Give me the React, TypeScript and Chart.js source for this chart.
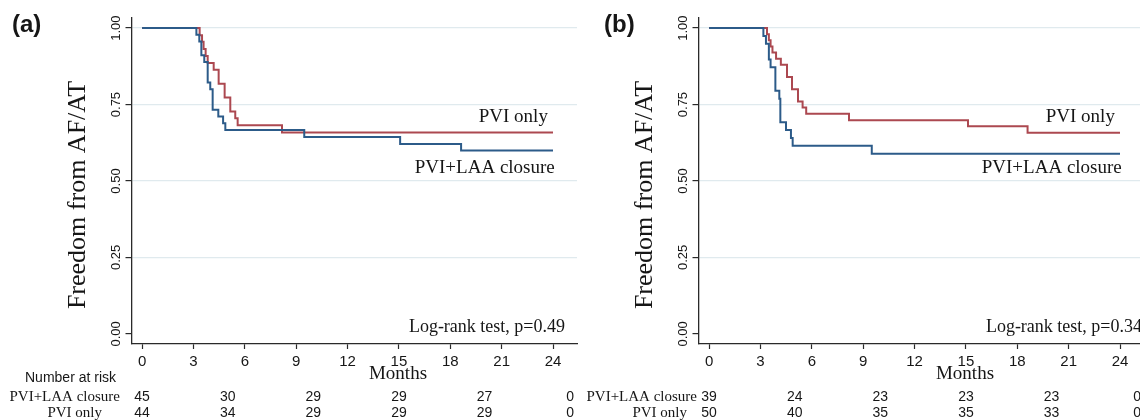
import React, { useEffect, useRef } from "react";
import { Chart, registerables } from "chart.js";

Chart.register(...registerables);

// ---------- data ----------
const xTickValues = [0, 3, 6, 9, 12, 15, 18, 21, 24];
const yTickValues = [0, 0.25, 0.5, 0.75, 1];
const yTickLabels = ["0.00", "0.25", "0.50", "0.75", "1.00"];
const riskMonths = [0, 5, 10, 15, 20, 25];

const seriesNames = ["PVI+LAA closure", "PVI only"];
const panelLetters = ["(a)", "(b)"];
const logRankTexts = ["Log-rank test, p=0.49", "Log-rank test, p=0.34"];
const yTitle = "Freedom from AF/AT";
const xTitle = "Months";
const riskTitle = "Number at risk";

// Panel (a)
const aLaaMonths = [0, 3.17, 3.34, 3.46, 3.63, 3.83, 3.98, 4.12, 4.45, 4.73, 4.86, 9.47, 15.07, 18.63, 24];
const aLaaSurv = [1, 0.978, 0.956, 0.911, 0.889, 0.822, 0.8, 0.733, 0.711, 0.689, 0.667, 0.644, 0.621, 0.6, 0.6];
const aPviMonths = [0, 3.36, 3.5, 3.59, 3.71, 3.83, 4.18, 4.47, 4.82, 5.15, 5.44, 5.58, 8.17, 24];
const aPviSurv = [1, 0.977, 0.955, 0.932, 0.909, 0.886, 0.864, 0.818, 0.773, 0.727, 0.705, 0.682, 0.659, 0.659];
const aLaaRisk = [45, 30, 29, 29, 27, 0];
const aPviRisk = [44, 34, 29, 29, 29, 0];

// Panel (b)
const bLaaMonths = [0, 3.17, 3.32, 3.49, 3.59, 3.87, 4.1, 4.16, 4.49, 4.78, 4.88, 9.5, 24];
const bLaaSurv = [1, 0.974, 0.949, 0.897, 0.872, 0.795, 0.769, 0.692, 0.667, 0.641, 0.615, 0.589, 0.589];
const bPviMonths = [0, 3.38, 3.49, 3.59, 3.7, 3.91, 4.19, 4.55, 4.84, 5.19, 5.46, 5.67, 8.17, 15.12, 18.6, 24];
const bPviSurv = [1, 0.98, 0.96, 0.94, 0.92, 0.9, 0.88, 0.84, 0.8, 0.76, 0.74, 0.72, 0.699, 0.679, 0.658, 0.658];
const bLaaRisk = [39, 24, 23, 23, 23, 0];
const bPviRisk = [50, 40, 35, 35, 33, 0];

// ---------- styles ----------
const BLUE = "#2c5b89";
const RED = "#ac4850";
const GRID = "#e0eaee";
const AXIS = "#2a2a2a";
const TEXT = "#161616";
const SERIF = '"Liberation Serif", "Times New Roman", serif';
const SANS = '"Liberation Sans", Arial, Helvetica, sans-serif';

type PanelLayout = {
  letterX: number;
  showRiskTitle: boolean;
  laaLabelRight: number;
  pviLabelRight: number;
  logRankRight: number;
};

const overlayPlugin = {
  id: "overlay",
  afterDraw(chart: any, _args: any, opts: any) {
    const ctx = chart.ctx as CanvasRenderingContext2D;
    const xs = chart.scales.x;
    const ys = chart.scales.y;
    const L: PanelLayout = opts.layout;
    ctx.save();
    ctx.fillStyle = TEXT;

    // panel letter
    ctx.font = `bold 24px ${SANS}`;
    ctx.textAlign = "left";
    ctx.textBaseline = "middle";
    ctx.fillText(opts.letter, L.letterX, 25);

    // y tick labels (rotated)
    ctx.font = `13px ${SANS}`;
    ctx.textAlign = "center";
    ctx.textBaseline = "middle";
    yTickValues.forEach((v, i) => {
      ctx.save();
      ctx.translate(116, ys.getPixelForValue(v));
      ctx.rotate(-Math.PI / 2);
      ctx.fillText(yTickLabels[i], 0, 0);
      ctx.restore();
    });

    // y title
    ctx.save();
    ctx.font = `26px ${SERIF}`;
    ctx.translate(78, 195);
    ctx.rotate(-Math.PI / 2);
    ctx.fillText(yTitle, 0, 0);
    ctx.restore();

    // x title
    ctx.font = `19px ${SERIF}`;
    ctx.textAlign = "center";
    ctx.fillText(xTitle, 398, 374);

    // curve labels
    ctx.font = `19px ${SERIF}`;
    ctx.textAlign = "right";
    ctx.fillText(seriesNames[1], xs.getPixelForValue(23.7), 117);
    ctx.fillText(seriesNames[0], xs.getPixelForValue(24.1), 168);

    // log-rank
    ctx.font = `18px ${SERIF}`;
    ctx.fillText(opts.logRank, L.logRankRight, 327);

    // risk table
    if (L.showRiskTitle) {
      ctx.font = `14px ${SANS}`;
      ctx.textAlign = "left";
      ctx.fillText(riskTitle, 25, 378);
    }
    ctx.font = `15px ${SERIF}`;
    ctx.textAlign = "right";
    ctx.fillText(seriesNames[0], L.laaLabelRight, 397);
    ctx.fillText(seriesNames[1], L.pviLabelRight, 413);
    ctx.font = `14px ${SANS}`;
    ctx.textAlign = "center";
    riskMonths.forEach((m, i) => {
      const px = xs.getPixelForValue(m);
      ctx.fillText(String(opts.laaRisk[i]), px, 397.5);
      ctx.fillText(String(opts.pviRisk[i]), px, 413);
    });
    ctx.restore();
  },
};

function toPoints(months: number[], surv: number[]) {
  return months.map((m, i) => ({ x: m, y: surv[i] }));
}

function buildChart(
  canvas: HTMLCanvasElement,
  laaMonths: number[],
  laaSurv: number[],
  pviMonths: number[],
  pviSurv: number[],
  laaRisk: number[],
  pviRisk: number[],
  letter: string,
  logRank: string,
  layout: PanelLayout
) {
  return new Chart(canvas, {
    type: "line",
    data: {
      datasets: [
        {
          label: seriesNames[0],
          data: toPoints(laaMonths, laaSurv),
          borderColor: BLUE,
          borderWidth: 2,
          pointRadius: 0,
          stepped: "before",
          fill: false,
        },
        {
          label: seriesNames[1],
          data: toPoints(pviMonths, pviSurv),
          borderColor: RED,
          borderWidth: 2,
          pointRadius: 0,
          stepped: "before",
          fill: false,
        },
      ],
    } as any,
    options: {
      animation: false,
      responsive: false,
      devicePixelRatio: 1,
      events: [],
      layout: { padding: { left: 0, top: 18, right: 23, bottom: 46 } },
      plugins: {
        legend: { display: false },
        tooltip: { enabled: false },
        title: { display: false },
        overlay: { letter, logRank, laaRisk, pviRisk, layout },
      } as any,
      scales: {
        x: {
          type: "linear",
          position: "bottom",
          min: -0.62,
          max: 25.4,
          afterBuildTicks: (s: any) => {
            s.ticks = xTickValues.map((v) => ({ value: v }));
          },
          afterFit: (s: any) => {
            s.height = 30;
          },
          ticks: {
            autoSkip: false,
            maxRotation: 0,
            minRotation: 0,
            padding: 4,
            color: TEXT,
            font: { family: SANS, size: 15 },
          },
          grid: {
            drawOnChartArea: false,
            drawTicks: true,
            tickLength: 5,
            tickColor: AXIS,
            tickWidth: 1.2,
          },
          border: { display: true, color: AXIS, width: 1.3 },
        },
        y: {
          type: "linear",
          min: -0.033,
          max: 1.033,
          afterBuildTicks: (s: any) => {
            s.ticks = yTickValues.map((v) => ({ value: v }));
          },
          afterFit: (s: any) => {
            s.width = 131.5;
          },
          ticks: { display: false },
          grid: {
            drawOnChartArea: true,
            drawTicks: true,
            tickLength: 6,
            tickColor: AXIS,
            tickWidth: 1.2,
            lineWidth: 1.2,
            color: (c: any) => (c.tick && c.tick.value === 0 ? "rgba(0,0,0,0)" : GRID),
          },
          border: { display: true, color: AXIS, width: 1.3 },
        },
      },
    } as any,
    plugins: [overlayPlugin as any],
  });
}

export default function App() {
  const refA = useRef<HTMLCanvasElement | null>(null);
  const refB = useRef<HTMLCanvasElement | null>(null);

  useEffect(() => {
    const cA = buildChart(
      refA.current!,
      aLaaMonths,
      aLaaSurv,
      aPviMonths,
      aPviSurv,
      aLaaRisk,
      aPviRisk,
      panelLetters[0],
      logRankTexts[0],
      { letterX: 12, showRiskTitle: true, laaLabelRight: 120, pviLabelRight: 102, logRankRight: 565 }
    );
    const cB = buildChart(
      refB.current!,
      bLaaMonths,
      bLaaSurv,
      bPviMonths,
      bPviSurv,
      bLaaRisk,
      bPviRisk,
      panelLetters[1],
      logRankTexts[1],
      { letterX: 37, showRiskTitle: false, laaLabelRight: 130, pviLabelRight: 120, logRankRight: 575 }
    );
    return () => {
      cA.destroy();
      cB.destroy();
    };
  }, []);

  return (
    <div
      style={{
        position: "fixed",
        left: 0,
        top: 0,
        width: 1140,
        height: 420,
        overflow: "hidden",
        background: "#ffffff",
      }}
    >
      <canvas
        ref={refA}
        width={600}
        height={420}
        style={{ position: "absolute", left: 0, top: 0, width: 600, height: 420 }}
      />
      <canvas
        ref={refB}
        width={600}
        height={420}
        style={{ position: "absolute", left: 567, top: 0, width: 600, height: 420 }}
      />
    </div>
  );
}
